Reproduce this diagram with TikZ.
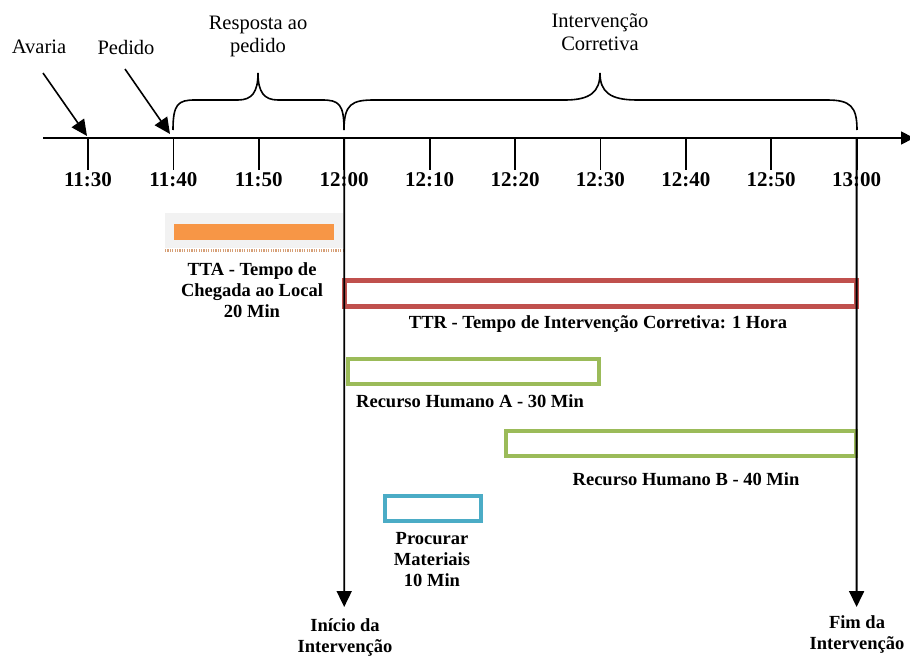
\documentclass[tikz,border=0pt]{standalone}
\usepackage{fontspec}
\setmainfont{LiberationSerif}[Extension=.ttf, UprightFont=*-Regular, BoldFont=*-Bold, ItalicFont=*-Italic, BoldItalicFont=*-BoldItalic]
\usetikzlibrary{arrows.meta}
\definecolor{ttrred}{RGB}{192,80,77}
\definecolor{resgreen}{RGB}{155,187,89}
\definecolor{matblue}{RGB}{75,172,198}
\definecolor{ttaorange}{RGB}{247,150,70}
\definecolor{ttashade}{RGB}{242,242,242}
\definecolor{ttarule}{RGB}{214,160,120}

\begin{document}
\begin{tikzpicture}[x=1pt,y=-1pt,
  axisline/.style={line width=1.8pt},
  tickline/.style={line width=1.8pt},
  pointer/.style={line width=1.6pt,-{Triangle[width=15pt,length=16pt]}},
  bracepath/.style={line width=1.6pt},
  ticklabel/.style={font=\fontsize{21}{24}\selectfont\bfseries, inner sep=0pt},
  plainlabel/.style={font=\fontsize{20.5}{23}\selectfont, align=center, inner sep=0pt},
  barlabel/.style={font=\fontsize{18.5}{21}\selectfont\bfseries, align=center, inner sep=0pt},
  barbox/.style={line width=4pt},
]
\useasboundingbox (0,0) rectangle (910,656);
\fill[white] (0,0) rectangle (910,656);

% time axis
\coordinate (axstart) at (43,138);
\coordinate (axend) at (914,138);
\draw[axisline,-{Triangle[width=13pt,length=13pt]}] (axstart) -- (axend);

% ticks and hour labels
\foreach \i/\t in {0/11:30,1/11:40,2/11:50,3/12:00,4/12:10,5/12:20,6/12:30,7/12:40,8/12:50,9/13:00}{
  \coordinate (t\i) at (88+85.4*\i,138);
  \node[ticklabel] (lab\i) at (88+85.4*\i,180) {\t};
  \draw[tickline] (t\i) -- ++(0,32);
}

% events
\node[plainlabel] (avaria) at (39,47) {Avaria};
\node[plainlabel] (pedido) at (126,47) {Pedido};
\coordinate (avfrom) at (43,73);
\coordinate (pedfrom) at (125,69);
\coordinate (avto) at (87,136);
\coordinate (pedto) at (170,134);
\draw[pointer] (avfrom) -- (avto);
\draw[pointer] (pedfrom) -- (pedto);

% braces
\draw[bracepath] (173,130) .. controls (173,104) and (178,100) .. (195,100) -- (238,100)
  .. controls (252,100) and (258,92) .. (258,73)
  .. controls (258,92) and (264,100) .. (278,100) -- (322,100)
  .. controls (339,100) and (344,104) .. (344,130);
\draw[bracepath] (344,130) .. controls (344,104) and (352,100) .. (374,100) -- (565,100)
  .. controls (590,100) and (600,92) .. (600,73)
  .. controls (600,92) and (610,100) .. (637,100) -- (827,100)
  .. controls (850,100) and (857,106) .. (857,130);
\node[plainlabel] (resposta) at (258,36) {Resposta ao\\pedido};
\node[plainlabel] (corretiva) at (600,32) {Intervenção\\Corretiva};

% TTA bar
\fill[ttashade] (165,213) rectangle (343,248);
\fill[ttaorange] (174,224) rectangle (334,240);
\draw[ttarule, line width=3pt, dash pattern=on 1.2pt off 1.2pt] (165,250.5) -- (343,250.5);
\node[barlabel] (tta) at (252,290) {TTA - Tempo de\\Chegada ao Local\\20 Min};

% TTR bar
\draw[barbox, line width=5pt, ttrred] (344.5,280.5) rectangle (856,306.5);
\node[barlabel] (ttr) at (598,324) {TTR - Tempo de Intervenção Corretiva: 1 Hora};

% human resources
\draw[barbox, resgreen] (348,359) rectangle (599,384);
\node[barlabel] (rha) at (470,401) {Recurso Humano A - 30 Min};
\draw[barbox, resgreen] (506,431) rectangle (856,456);
\node[barlabel] (rhb) at (686,479) {Recurso Humano B - 40 Min};

% materials
\draw[barbox, matblue] (385,496) rectangle (481,521);
\node[barlabel] (mat) at (432,560) {Procurar\\Materiais\\10 Min};

% start and end of the intervention
\node[barlabel] (inicio) at (345,637) {Início da\\Intervenção};
\node[barlabel] (fim) at (857,634) {Fim da\\Intervenção};
\coordinate (inicioarr) at (344.2,607);
\coordinate (fimarr) at (856.6,607);
\draw[pointer, line width=1.8pt] (t3) -- (inicioarr);
\draw[pointer, line width=1.8pt] (t9) -- (fimarr);
\end{tikzpicture}
\end{document}
